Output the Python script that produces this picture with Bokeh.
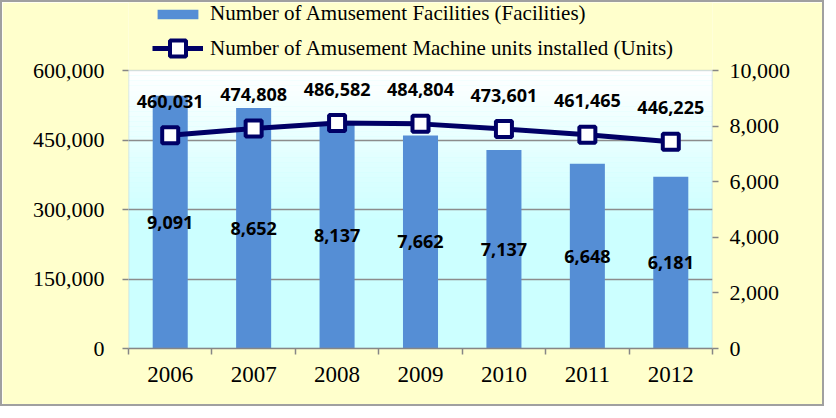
from bokeh.plotting import figure
from bokeh.models import (Range1d, LinearAxis, FixedTicker, NumeralTickFormatter,
                          BoxAnnotation, Legend, LegendItem)
from bokeh.core.properties import value
from bokeh.embed import file_html
from bokeh.resources import INLINE

years = ["2006", "2007", "2008", "2009", "2010", "2011", "2012"]
machines = [460031, 474808, 486582, 484804, 473601, 461465, 446225]
facilities = [9091, 8652, 8137, 7662, 7137, 6648, 6181]
left_ticks = [0, 150000, 300000, 450000, 600000]
right_ticks = [0, 2000, 4000, 6000, 8000, 10000]
bar_name = "Number of Amusement Facilities (Facilities)"
line_name = "Number of Amusement Machine units installed (Units)"

n = len(years)
xs = [i + 0.5 for i in range(n)]
left_max = left_ticks[-1]
right_max = right_ticks[-1]

# layout (pixels): frame spans from the top of the canvas so the legend can sit inside it
W, H = 824, 406
border_l, border_r, border_b = 126, 114, 60
frame_h = H - border_b            # frame from y=0 to y=346
plot_h = 278                      # height of the actual plot area (0..600,000)
scale = frame_h / plot_h

p = figure(width=W, height=H, x_range=Range1d(0, n),
           y_range=Range1d(0, left_max * scale),
           output_backend="svg", toolbar_location=None,
           min_border_left=border_l, min_border_right=border_r,
           min_border_top=0, min_border_bottom=border_b)
p.extra_y_ranges = {"fac": Range1d(0, right_max * scale)}
p.background_fill_color = "#FFFFCC"
p.border_fill_color = "#FFFFCC"
p.outline_line_color = None
p.styles = {"border": "2px solid #a0a0a0"}

# plot area background
p.add_layout(BoxAnnotation(bottom=0, top=left_max, fill_color="#CCFFFF", fill_alpha=1.0,
                           line_alpha=0, level="image"))
# gradient (white at top -> light cyan)
steps = 30
top_v, bot_v = left_max, left_max * 0.45
for k in range(steps):
    t = k / (steps - 1)
    r = 255 + (204 - 255) * t
    col = "#%02x%02x%02x" % (int(round(r)), 255, 255)
    hi = top_v - (top_v - bot_v) * k / steps
    lo = top_v - (top_v - bot_v) * (k + 1) / steps
    p.add_layout(BoxAnnotation(bottom=lo, top=hi, fill_color=col, fill_alpha=1.0,
                               line_alpha=0, level="image"))

font_serif = "Liberation Serif"
axis_col = "#868686"

# left axis
ly = p.yaxis[0]
ly.ticker = FixedTicker(ticks=left_ticks)
ly.formatter = NumeralTickFormatter(format="0,0")
# right axis
ry = LinearAxis(y_range_name="fac", ticker=FixedTicker(ticks=right_ticks),
                formatter=NumeralTickFormatter(format="0,0"))
p.add_layout(ry, "right")
for ax in (ly, ry):
    ax.major_label_text_font = font_serif
    ax.major_label_text_font_size = "22px"
    ax.major_label_text_color = "black"
    ax.axis_line_color = None
    ax.major_tick_line_color = axis_col
    ax.major_tick_line_width = 1.5
    ax.major_tick_out = 6
    ax.major_tick_in = 0
    ax.minor_tick_line_color = None
ly.major_label_standoff = 18
ry.major_label_standoff = 11

xa = p.xaxis[0]
xa.ticker = FixedTicker(ticks=xs, minor_ticks=list(range(n + 1)))
xa.major_label_overrides = {x: y for x, y in zip(xs, years)}
xa.major_label_text_font = font_serif
xa.major_label_text_font_size = "23px"
xa.major_label_text_color = "black"
xa.axis_line_color = axis_col
xa.axis_line_width = 1.5
xa.major_tick_out = 0
xa.major_tick_in = 0
xa.minor_tick_out = 6
xa.minor_tick_in = 0
xa.minor_tick_line_color = axis_col
xa.minor_tick_line_width = 1.5
xa.major_label_standoff = 12

p.xgrid.visible = False
p.ygrid.ticker = FixedTicker(ticks=[150000, 300000, 450000])
p.ygrid.grid_line_color = "#8c8c8c"
p.ygrid.grid_line_width = 1.5

bars = p.vbar(x=xs, top=facilities, width=0.42, y_range_name="fac",
              fill_color="#558ED5", line_color=None)

# plot area border (axis lines + top edge)
p.add_layout(BoxAnnotation(bottom=0, top=left_max, fill_alpha=0,
                           line_color="#8a96a8", line_width=1.5, level="glyph"))

ln = p.line(xs, machines, line_width=5, line_color="#000066")
sc = p.scatter(xs, machines, marker="square", size=16, fill_color="white",
               line_color="#000066", line_width=4)

label_font = value("Open Sans")
p.text(x=xs, y=machines, text=[f"{v:,}" for v in machines], y_offset=-34,
       text_align="center", text_baseline="middle", text_font=label_font,
       text_font_style="bold", text_font_size="18px", text_color="black")
p.text(x=xs, y=[f / 2 for f in facilities], text=[f"{v:,}" for v in facilities],
       y_range_name="fac", text_align="center", text_baseline="middle",
       text_font=label_font, text_font_style="bold", text_font_size="18px",
       text_color="black")

common = dict(orientation="vertical", glyph_width=51, label_height=14, spacing=0,
              padding=0, margin=0, label_standoff=7,
              border_line_alpha=0, background_fill_alpha=0,
              label_text_font=font_serif, label_text_font_size="21px",
              label_text_color="black")
legend_a = Legend(items=[LegendItem(label=bar_name, renderers=[bars])],
                  location=(24, frame_h - 24 - 0), glyph_height=12, **common)
legend_b = Legend(items=[LegendItem(label=line_name, renderers=[ln, sc])],
                  location=(24, frame_h - 40 - 26), glyph_height=40, **common)
p.add_layout(legend_a)
p.add_layout(legend_b)

open("out.html", "w").write(file_html(p, INLINE))
